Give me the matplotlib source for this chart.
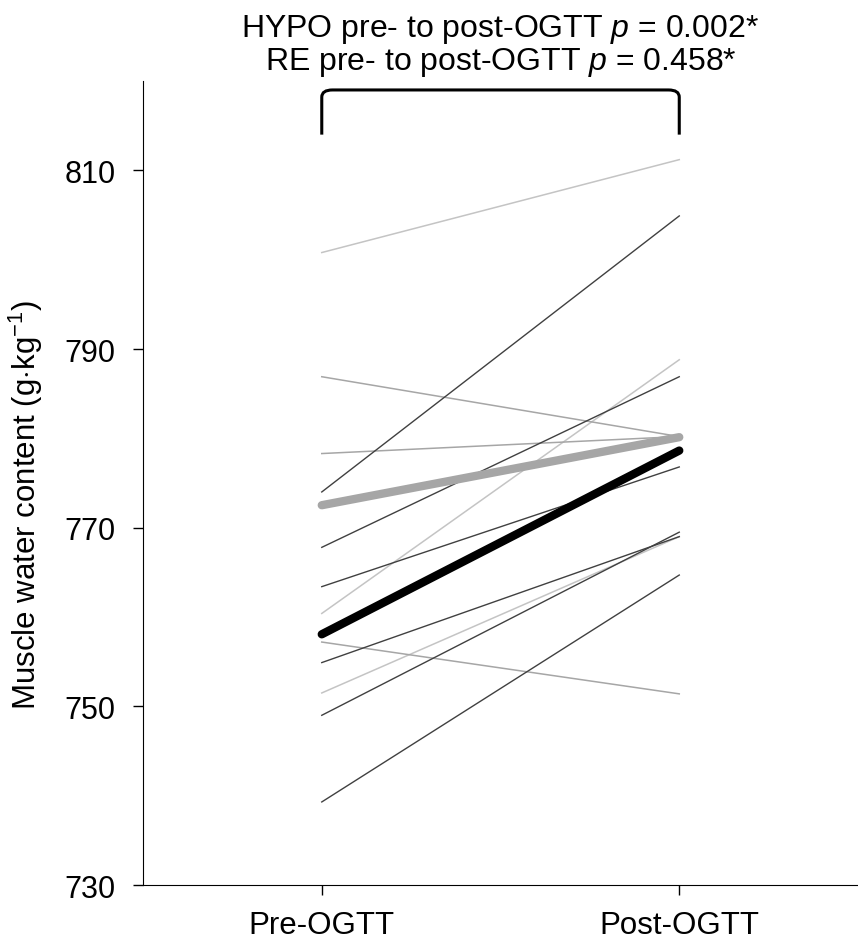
import numpy as np
import matplotlib
matplotlib.use("Agg")
import matplotlib.pyplot as plt
from matplotlib.path import Path
from matplotlib.patches import PathPatch

plt.rcParams['font.family'] = ['Liberation Sans', 'DejaVu Sans']
plt.rcParams['mathtext.fontset'] = 'custom'
plt.rcParams['mathtext.rm'] = 'Liberation Sans'
plt.rcParams['mathtext.it'] = 'Liberation Sans:italic'

# time points
conditions = ['Pre-OGTT', 'Post-OGTT']

# HYPO participants (dark lines)
hypo_pre = [774.0, 767.8, 763.4, 754.9, 749.0, 739.3]
hypo_post = [804.9, 786.9, 776.8, 769.0, 769.5, 764.7]

# RE participants (grey lines)
re_pre = [800.8, 760.4, 751.5, 786.9, 778.3, 757.2]
re_post = [811.2, 788.8, 769.0, 780.2, 780.2, 751.4]
re_colors = ['#c4c4c4', '#c4c4c4', '#c4c4c4', '#a6a6a6', '#a6a6a6', '#a6a6a6']

hypo_p = 0.002
re_p = 0.458

fig = plt.figure(figsize=(8.58, 9.45), dpi=100)
ax = fig.add_axes([0.1667, 0.0624, 0.8333, 0.8508])

x = np.arange(len(conditions))

for a, b, c in zip(re_pre, re_post, re_colors):
    ax.plot(x, [a, b], color=c, lw=1.1, zorder=2)
for a, b in zip(hypo_pre, hypo_post):
    ax.plot(x, [a, b], color='#404040', lw=1.0, zorder=3)

# group means
ax.plot(x, [np.mean(re_pre), np.mean(re_post)], color='#a6a6a6', lw=6,
        solid_capstyle='round', zorder=4)
ax.plot(x, [np.mean(hypo_pre), np.mean(hypo_post)], color='black', lw=6,
        solid_capstyle='round', zorder=5)

ax.set_xlim(-0.5, 1.5)
ax.set_ylim(730, 820)
ax.set_xticks(x)
ax.set_xticklabels(conditions, fontsize=22.5)
ax.set_yticks(np.arange(730, 811, 20))
ax.tick_params(axis='y', labelsize=22, length=7, width=1, direction='out', pad=13)
ax.tick_params(axis='x', length=7, width=1, direction='out', pad=11)
ax.set_ylabel('Muscle water content (g$\\cdot$kg$^{-1}$)', fontsize=22.5)
ax.yaxis.set_label_coords(-0.137, 0.474)

ax.spines['top'].set_visible(False)
ax.spines['right'].set_visible(False)

# significance bracket
verts = [(0, 814.0), (0, 818.2), (0.0, 819.0), (0.03, 819.0),
         (0.97, 819.0), (1.0, 819.0), (1.0, 818.2), (1, 814.0)]
codes = [Path.MOVETO, Path.LINETO, Path.CURVE3, Path.CURVE3,
         Path.LINETO, Path.CURVE3, Path.CURVE3, Path.LINETO]
ax.add_patch(PathPatch(Path(verts, codes), fill=False, lw=2.2, color='black',
                       clip_on=False, zorder=6))

tr = ax.get_xaxis_transform()
ax.text(0.5, 1.056, 'HYPO pre- to post-OGTT $p$ = %.3f*' % hypo_p, transform=tr,
        ha='center', va='baseline', fontsize=23)
ax.text(0.5, 1.015, 'RE pre- to post-OGTT $p$ = %.3f*' % re_p, transform=tr,
        ha='center', va='baseline', fontsize=23)

fig.savefig('out.png', dpi=100)
